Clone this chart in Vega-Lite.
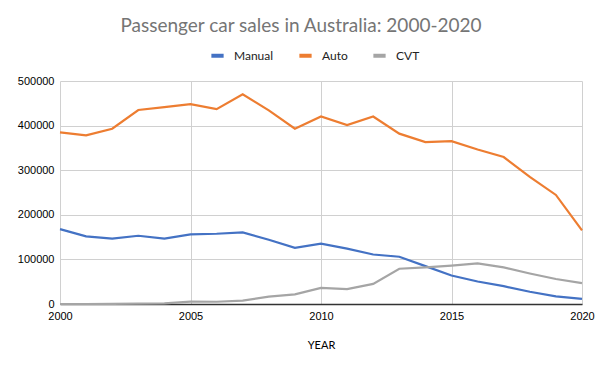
{
  "$schema": "https://vega.github.io/schema/vega-lite/v6.json",
  "width": 522,
  "height": 223,
  "autosize": {"type": "none"},
  "padding": {"left": 60, "top": 81, "right": 18, "bottom": 67},
  "background": "white",
  "title": {
    "text": "Passenger car sales in Australia: 2000-2020",
    "font": "Lato",
    "fontSize": 19,
    "fontWeight": "normal",
    "color": "#757575",
    "anchor": "middle",
    "dx": -20,
    "offset": 11
  },
  "data": {
    "values": [
      {"year": 2000, "type": "Manual", "sales": 168000},
      {"year": 2001, "type": "Manual", "sales": 151500},
      {"year": 2002, "type": "Manual", "sales": 146500},
      {"year": 2003, "type": "Manual", "sales": 153000},
      {"year": 2004, "type": "Manual", "sales": 146500},
      {"year": 2005, "type": "Manual", "sales": 156000},
      {"year": 2006, "type": "Manual", "sales": 157500},
      {"year": 2007, "type": "Manual", "sales": 160500},
      {"year": 2008, "type": "Manual", "sales": 144000},
      {"year": 2009, "type": "Manual", "sales": 126000},
      {"year": 2010, "type": "Manual", "sales": 135500},
      {"year": 2011, "type": "Manual", "sales": 124000},
      {"year": 2012, "type": "Manual", "sales": 111000},
      {"year": 2013, "type": "Manual", "sales": 106000},
      {"year": 2014, "type": "Manual", "sales": 85000},
      {"year": 2015, "type": "Manual", "sales": 64000},
      {"year": 2016, "type": "Manual", "sales": 50500},
      {"year": 2017, "type": "Manual", "sales": 40000},
      {"year": 2018, "type": "Manual", "sales": 27500},
      {"year": 2019, "type": "Manual", "sales": 17000},
      {"year": 2020, "type": "Manual", "sales": 11500},
      {"year": 2000, "type": "Auto", "sales": 385000},
      {"year": 2001, "type": "Auto", "sales": 378000},
      {"year": 2002, "type": "Auto", "sales": 393000},
      {"year": 2003, "type": "Auto", "sales": 435000},
      {"year": 2004, "type": "Auto", "sales": 441500},
      {"year": 2005, "type": "Auto", "sales": 448000},
      {"year": 2006, "type": "Auto", "sales": 437000},
      {"year": 2007, "type": "Auto", "sales": 470000},
      {"year": 2008, "type": "Auto", "sales": 434000},
      {"year": 2009, "type": "Auto", "sales": 393000},
      {"year": 2010, "type": "Auto", "sales": 420500},
      {"year": 2011, "type": "Auto", "sales": 401000},
      {"year": 2012, "type": "Auto", "sales": 420500},
      {"year": 2013, "type": "Auto", "sales": 382000},
      {"year": 2014, "type": "Auto", "sales": 363000},
      {"year": 2015, "type": "Auto", "sales": 365000},
      {"year": 2016, "type": "Auto", "sales": 346500},
      {"year": 2017, "type": "Auto", "sales": 329500},
      {"year": 2018, "type": "Auto", "sales": 285000},
      {"year": 2019, "type": "Auto", "sales": 244500},
      {"year": 2020, "type": "Auto", "sales": 165000},
      {"year": 2000, "type": "CVT", "sales": 0},
      {"year": 2001, "type": "CVT", "sales": 0},
      {"year": 2002, "type": "CVT", "sales": 500},
      {"year": 2003, "type": "CVT", "sales": 1000},
      {"year": 2004, "type": "CVT", "sales": 1500},
      {"year": 2005, "type": "CVT", "sales": 5500},
      {"year": 2006, "type": "CVT", "sales": 5000},
      {"year": 2007, "type": "CVT", "sales": 7500},
      {"year": 2008, "type": "CVT", "sales": 16500},
      {"year": 2009, "type": "CVT", "sales": 21500},
      {"year": 2010, "type": "CVT", "sales": 36000},
      {"year": 2011, "type": "CVT", "sales": 33500},
      {"year": 2012, "type": "CVT", "sales": 45000},
      {"year": 2013, "type": "CVT", "sales": 79000},
      {"year": 2014, "type": "CVT", "sales": 82000},
      {"year": 2015, "type": "CVT", "sales": 86000},
      {"year": 2016, "type": "CVT", "sales": 91000},
      {"year": 2017, "type": "CVT", "sales": 82000},
      {"year": 2018, "type": "CVT", "sales": 68500},
      {"year": 2019, "type": "CVT", "sales": 56000},
      {"year": 2020, "type": "CVT", "sales": 47000}
    ]
  },
  "mark": {"type": "line", "strokeWidth": 2.2},
  "encoding": {
    "x": {
      "field": "year",
      "type": "quantitative",
      "scale": {"domain": [2000, 2020], "nice": false, "zero": false},
      "axis": {
        "values": [2000, 2005, 2010, 2015, 2020],
        "format": "d",
        "title": "YEAR",
        "titleFont": "Lato",
        "titleFontSize": 11,
        "titleFontWeight": "normal",
        "titleColor": "#000000",
        "titlePadding": 18,
        "labelFont": "Liberation Sans",
        "labelFontSize": 11,
        "labelColor": "#000000",
        "labelPadding": 6,
        "ticks": false,
        "domainColor": "#333333",
        "domainWidth": 1.5,
        "grid": true,
        "gridColor": "#d0d0d0",
        "labelFlush": false
      }
    },
    "y": {
      "field": "sales",
      "type": "quantitative",
      "scale": {"domain": [0, 500000], "nice": false},
      "axis": {
        "values": [0, 100000, 200000, 300000, 400000, 500000],
        "format": "d",
        "title": null,
        "labelFont": "Liberation Sans",
        "labelFontSize": 11,
        "labelColor": "#000000",
        "labelPadding": 6,
        "ticks": false,
        "domain": false,
        "grid": true,
        "gridColor": "#d0d0d0"
      }
    },
    "color": {
      "field": "type",
      "type": "nominal",
      "sort": ["Manual", "Auto", "CVT"],
      "scale": {"domain": ["Manual", "Auto", "CVT"], "range": ["#4472C4", "#ED7D31", "#A5A5A5"]},
      "legend": {
        "title": null,
        "orient": "none",
        "direction": "horizontal",
        "legendX": 149,
        "legendY": -34,
        "symbolType": "stroke",
        "symbolStrokeWidth": 4,
        "symbolSize": 150,
        "labelFont": "Lato",
        "labelFontSize": 12,
        "labelColor": "#222222",
        "labelOffset": 8,
        "columnPadding": 17
      }
    }
  },
  "config": {"view": {"stroke": null}}
}
